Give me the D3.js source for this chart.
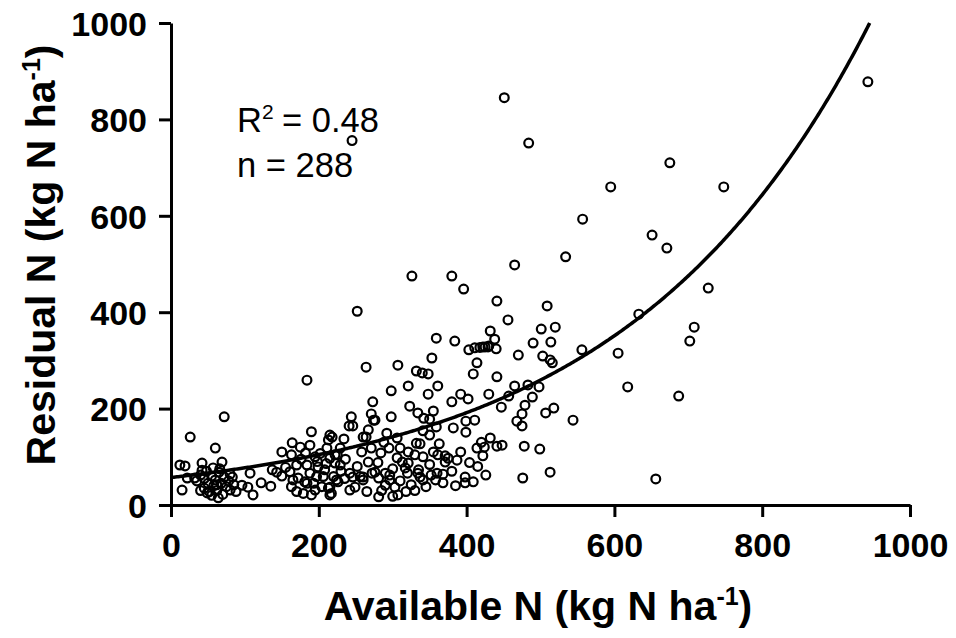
<!DOCTYPE html>
<html>
<head>
<meta charset="utf-8">
<script src="https://cdn.jsdelivr.net/npm/d3@7"></script>
<style>
html,body{margin:0;padding:0;background:#fff;}
svg{display:block;}
text{font-family:"Liberation Sans",Arial,Helvetica,sans-serif;}
</style>
</head>
<body>
<svg id="chart" width="956" height="638"></svg>
<script>
// ---- data (Available N, Residual N), kg N ha-1 ----
const upperPoints = [[943,878],[451,845],[245,756],[484,751],[595,660],[675,710],[748,660],[557,593],[651,560],[671,533],[465,498],[534,515],[326,475],[380,475],[396,448],[727,450],[252,402],[441,423],[633,396],[456,384],[509,413],[432,361],[501,365],[520,369],[438,344],[422,328],[429,328],[440,324],[490,336],[514,338],[470,311],[503,309],[513,301],[516,295],[556,322],[605,315],[708,369],[702,340],[359,346],[384,340],[403,322],[411,326],[418,327],[425,328],[430,330],[353,305],[414,295],[264,286],[307,290],[332,278],[340,274],[348,272],[409,272],[441,266]];
const middlePoints = [[618,245],[687,226],[465,247],[483,249],[498,245],[298,237],[321,247],[361,247],[348,230],[392,230],[402,220],[430,230],[457,226],[489,224],[380,214],[447,203],[273,214],[323,205],[479,207],[475,189],[468,174],[475,164],[507,191],[518,201],[544,176],[334,191],[355,195],[342,180],[350,178],[399,174],[411,176],[244,183],[241,164],[246,164],[271,189],[276,176],[298,183],[359,162],[382,160],[341,154],[399,151],[432,139],[414,118],[424,120],[441,122],[448,124],[422,102],[426,62],[478,122],[499,116],[513,68],[476,56],[656,54]];
const lowerPoints = [[234,137],[218,141],[260,141],[264,141],[306,139],[271,118],[295,118],[310,118],[284,108],[337,127],[363,127],[355,110],[361,104],[371,102],[371,89],[387,93],[321,110],[330,104],[267,89],[306,98],[313,89],[321,87],[341,100],[225,104],[229,83],[242,66],[246,58],[260,58],[276,68],[290,66],[296,62],[317,77],[320,66],[334,66],[337,58],[360,66],[368,64],[296,52],[303,37],[290,41],[341,52],[368,46],[398,58],[398,46],[409,48],[281,17],[307,21],[215,21],[215,37],[242,31],[249,37],[226,48],[260,52],[375,97],[350,84],[335,73],[350,145],[267,156],[274,176],[292,149],[332,128],[211,118],[229,118],[222,104],[256,59],[272,66],[281,56],[265,28],[195,31],[181,48]];
const leftPoints = [[184,259],[72,183],[26,141],[60,118],[190,152],[215,145],[213,135],[164,129],[175,120],[188,124],[150,110],[12,83],[19,81],[42,87],[69,89],[57,77],[15,31],[22,56],[64,15],[49,25],[83,58],[107,66],[96,41],[104,37],[111,21],[122,46],[135,39],[137,73],[143,68],[80,31],[32,56],
[35,50],[40,62],[45,35],[48,70],[50,45],[52,28],[55,60],[58,40],[60,52],[62,30],[65,68],[68,45],[70,22],[72,58],[75,38],[78,50],[40,30],[45,55],[55,20],[62,42],[66,75],[80,64],[85,42],[88,28],[42,72]];
const clusterPoints = [[163,104],[170,83],[161,69],[165,52],[172,56],[163,38],[170,28],[179,24],[190,21],[184,45],[193,45],[188,66],[197,59],[199,79],[208,73],[215,97],[222,87],[204,38],[213,35],[217,24],[206,59],[220,59],[224,52],[195,100],[202,107],[184,83],
[176,95],[182,108],[210,86],[230,70],[236,95],[252,80],[258,110],[280,88],[288,130],[300,75],[310,50],[325,42],[330,30],[345,38],[352,62],[358,52],[380,70],[385,40],[392,110],[404,88],[415,80],[420,130],[285,30],[300,18],[318,28],[235,55],[198,90],[155,78],[150,60]];

const xTicks = [0, 200, 400, 600, 800, 1000];
const yTicks = [0, 200, 400, 600, 800, 1000];
// exponential fit: y = fitA * exp(fitB * x)
const fitA = 57;
const fitB = 0.00303;
const statsR2 = "0.48";
const statsN = "288";

const points = [].concat(upperPoints, middlePoints, lowerPoints, leftPoints, clusterPoints);

const svg = d3.select("#chart");
svg.append("rect").attr("width", 956).attr("height", 638).attr("fill", "#fff");

const x = d3.scaleLinear().domain([0, 1000]).range([171, 910]);
const y = d3.scaleLinear().domain([0, 1000]).range([505, 23]);

// points
svg.append("g").selectAll("circle").data(points).join("circle")
  .attr("cx", d => x(d[0])).attr("cy", d => y(d[1])).attr("r", 4.4)
  .attr("fill", "none").attr("stroke", "#000").attr("stroke-width", 2.2);

// fit curve
const xMaxCurve = Math.log(1000 / fitA) / fitB;
const curveX = d3.range(0, xMaxCurve, 2).concat([xMaxCurve]);
svg.append("path")
  .datum(curveX.map(v => [v, fitA * Math.exp(fitB * v)]))
  .attr("fill", "none").attr("stroke", "#000").attr("stroke-width", 3.5)
  .attr("d", d3.line().x(d => x(d[0])).y(d => y(d[1])));

// axes
const fmt = d3.format("d");
const xAxis = svg.append("g").attr("transform", "translate(0,505)")
  .call(d3.axisBottom(x).tickValues(xTicks).tickFormat(fmt).tickSize(12).tickPadding(14).tickSizeOuter(0));
const yAxis = svg.append("g").attr("transform", "translate(171,0)")
  .call(d3.axisLeft(y).tickValues(yTicks).tickFormat(fmt).tickSize(12).tickPadding(12).tickSizeOuter(0));
[xAxis, yAxis].forEach(g => {
  g.select(".domain").attr("stroke", "#000").attr("stroke-width", 3);
  g.selectAll(".tick line").attr("stroke", "#000").attr("stroke-width", 3);
  g.selectAll(".tick text").attr("fill", "#000")
    .style("font-family", '"Liberation Sans", Arial, sans-serif')
    .style("font-weight", "bold").style("font-size", "34px");
});
xAxis.selectAll(".tick text").attr("dy", "0.75em");
yAxis.selectAll(".tick text").attr("dy", "0.36em");

// axis titles
function title(sel, main) {
  sel.style("font-weight", "bold").style("font-size", "41px").attr("fill", "#000");
  sel.append("tspan").text(main);
  sel.append("tspan").attr("dy", -15).style("font-size", "25px").text("-1");
  sel.append("tspan").attr("dy", 15).text(")");
}
svg.append("text").attr("x", 538).attr("y", 620).attr("text-anchor", "middle")
  .call(title, "Available N (kg N ha");
svg.append("text").attr("transform", "translate(55,255) rotate(-90)").attr("text-anchor", "middle")
  .call(title, "Residual N (kg N ha");

// stats
const st = svg.append("text").attr("y", 132).style("font-size", "34.5px").attr("fill", "#000");
st.append("tspan").attr("x", 237).text("R");
st.append("tspan").attr("dy", -13).style("font-size", "21px").text("2");
st.append("tspan").attr("x", 282).attr("dy", 13).text("= " + statsR2);
svg.append("text").attr("x", 237).attr("y", 177).style("font-size", "34.5px").attr("fill", "#000")
  .text("n = " + statsN);
</script>
</body>
</html>
